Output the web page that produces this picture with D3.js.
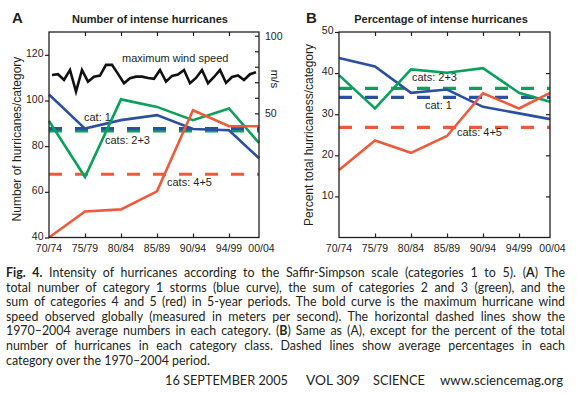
<!DOCTYPE html>
<html>
<head>
<meta charset="utf-8">
<script src="https://cdn.jsdelivr.net/npm/d3@7"></script>
<style>
body { margin: 0; background: #fff; }
svg { display: block; font-family: "Liberation Sans", Arial, sans-serif; }
.tick text { font-size: 10.5px; fill: #231f20; }
.tick line { stroke: #231f20; stroke-width: 1.2; }
</style>
</head>
<body>
<svg id="chart" width="577" height="393"></svg>
<script>
// periods on the x axis
var categories = ["70/74", "75/79", "80/84", "85/89", "90/94", "94/99", "00/04"];

// panel A: number of hurricanes per category
var cat1Count  = [102.6, 87.7, 91.4, 93.6, 87.5, 87.0, 74.7];
var cat23Count = [91.0, 66.5, 100.5, 97.2, 91.4, 96.5, 81.4];
var cat45Count = [40.0, 51.4, 52.3, 60.2, 95.7, 88.7, 88.7];
var countAvg   = [87.7, 86.7, 67.7]; // cat 1, cats 2+3, cats 4+5

// panel A: yearly maximum wind speed (m/s)
var windYears = [1970, 1971, 1972, 1973, 1974, 1975, 1976, 1977, 1978, 1979,
                 1980, 1981, 1982, 1983, 1984, 1985, 1986, 1987, 1988, 1989,
                 1990, 1991, 1992, 1993, 1994, 1995, 1996, 1997, 1998, 1999,
                 2000, 2001, 2002, 2003, 2004];
var maxWind = [74.7, 75.2, 71.5, 77.9, 64.0, 77.9, 70.4, 73.6, 74.3, 81.2,
               81.2, 75.4, 69.4, 72.6, 73.6, 73.6, 72.8, 72.2, 77.9, 70.4,
               74.1, 75.0, 77.9, 69.4, 72.8, 77.9, 69.4, 73.4, 77.9, 69.6,
               73.4, 74.4, 71.5, 75.2, 76.5];

// panel B: percentage of hurricanes per category
var cat1Pct  = [43.7, 41.6, 35.2, 36.0, 31.8, 30.2, 28.8];
var cat23Pct = [39.5, 31.4, 40.9, 40.1, 41.2, 35.2, 33.0];
var cat45Pct = [16.4, 23.6, 20.6, 24.7, 35.1, 31.4, 35.2];
var pctAvg   = [34.1, 36.3, 26.8];

var countTicks = [40, 60, 80, 100, 120];
var windTicks = [50, 60, 70, 80, 90, 100];
var pctTicks = [10, 20, 30, 40, 50];

var blue = "#2c50a0", green = "#0ba05c", red = "#ee5a3b", ink = "#231f20";

var svg = d3.select("#chart");
svg.append("rect").attr("width", 577).attr("height", 393).attr("fill", "#fff");

var panelTop = 32, H = 205.5;

function drawPanel(p) {
  var g = svg.append("g").attr("transform", "translate(" + p.left + "," + panelTop + ")");
  var x = d3.scaleLinear().domain([0, 6]).range([0, 216]);
  // last period sits on the right edge of the frame
  var px = function(i) { return Math.min(x(i), p.width); };

  // average (dashed) lines
  p.avgs.forEach(function(a) {
    g.append("line")
      .attr("x1", 0).attr("x2", p.width)
      .attr("y1", p.y(a.value)).attr("y2", p.y(a.value))
      .attr("stroke", a.color).attr("stroke-width", 3.2)
      .attr("stroke-dasharray", "13,13");
  });

  var line = d3.line()
    .x(function(d, i) { return px(i); })
    .y(function(d) { return p.y(d); });

  p.series.forEach(function(s) {
    g.append("path")
      .attr("d", line(s.values))
      .attr("fill", "none")
      .attr("stroke", s.color)
      .attr("stroke-width", 2.6);
  });

  // frame
  g.append("rect").attr("width", p.width).attr("height", H)
    .attr("fill", "none").attr("stroke", ink).attr("stroke-width", 1.3);

  // left axis, ticks outside
  g.append("g")
    .call(d3.axisLeft(p.y).tickValues(p.yTicks).tickSize(4).tickPadding(1.5))
    .call(function(a) { a.select(".domain").remove(); })
    .selectAll("text").attr("dy", "0.18em");

  // top and bottom ticks point inwards
  g.append("g").attr("transform", "translate(0," + H + ")")
    .call(d3.axisBottom(x).tickValues([1, 2, 3, 4, 5]).tickSize(-4).tickFormat(""))
    .call(function(a) { a.select(".domain").remove(); });
  g.append("g")
    .call(d3.axisTop(x).tickValues([1, 2, 3, 4, 5]).tickSize(-4).tickFormat(""))
    .call(function(a) { a.select(".domain").remove(); });

  g.selectAll(".xlab")
    .data(categories)
    .enter().append("text")
    .attr("class", "xlab")
    .attr("x", function(d, i) { return Math.min(x(i), p.width + 2.5); })
    .attr("y", H + 14.5)
    .attr("text-anchor", "middle")
    .attr("font-size", "10.5px")
    .attr("fill", ink)
    .text(function(d) { return d; });

  // panel letter + title
  svg.append("text")
    .attr("x", p.letterX).attr("y", 23)
    .attr("font-size", "15px").attr("font-weight", "bold").attr("fill", ink)
    .text(p.letter);
  svg.append("text")
    .attr("x", p.left + p.titleX).attr("y", 23)
    .attr("text-anchor", "middle")
    .attr("font-size", "11px").attr("font-weight", "bold").attr("fill", ink)
    .text(p.title);

  // y title
  svg.append("text")
    .attr("transform", "translate(" + p.ytitleX + "," + (panelTop + p.ytitleY) + ") rotate(-90)")
    .attr("text-anchor", "middle")
    .attr("font-size", "12px").attr("fill", ink)
    .text(p.ytitle);

  p.labels.forEach(function(l) {
    g.append("text")
      .attr("x", l.x).attr("y", l.y)
      .attr("font-size", "11px").attr("fill", ink)
      .text(l.text);
  });

  return g;
}

// ---- panel A
var yA = d3.scaleLinear().domain([40, 130]).range([H, 0]);
var gA = drawPanel({
  left: 49, width: 210, y: yA, yTicks: countTicks,
  letter: "A", letterX: 12, title: "Number of intense hurricanes", titleX: 101,
  ytitle: "Number of hurricanes/category", ytitleX: 21, ytitleY: 107,
  avgs: [
    {value: countAvg[1], color: green},
    {value: countAvg[0], color: blue},
    {value: countAvg[2], color: red}
  ],
  series: [
    {values: cat1Count, color: blue},
    {values: cat23Count, color: green},
    {values: cat45Count, color: red}
  ],
  labels: [
    {text: "maximum wind speed", x: 73, y: 30},
    {text: "cat: 1", x: 35, y: 88.5},
    {text: "cats: 2+3", x: 56, y: 111.5},
    {text: "cats: 4+5", x: 118, y: 154}
  ]
});

// wind speed on the right axis of panel A
var wind = d3.scaleLinear().domain([50, 100]).range([81.3, 3.7]);
var xYear = d3.scaleLinear().domain([1970, 2004]).range([3, 207]);
gA.append("path")
  .attr("d", d3.line()
    .x(function(d, i) { return xYear(windYears[i]); })
    .y(function(d) { return wind(d); })(maxWind))
  .attr("fill", "none")
  .attr("stroke", "#111")
  .attr("stroke-width", 2.6);

gA.append("g").attr("transform", "translate(210,0)")
  .call(d3.axisRight(wind).tickValues(windTicks).tickSize(-4).tickPadding(6)
    .tickFormat(function(d) { return (d === 50 || d === 100) ? d : ""; }))
  .call(function(a) { a.select(".domain").remove(); })
  .selectAll("text").attr("font-size", "11px");

svg.append("text")
  .attr("transform", "translate(271,79) rotate(90)")
  .attr("text-anchor", "middle")
  .attr("font-size", "11.5px").attr("fill", ink)
  .text("m/s");

// ---- panel B
var yB = d3.scaleLinear().domain([0, 50]).range([H, 0]);
var gB = drawPanel({
  left: 339, width: 211, y: yB, yTicks: pctTicks,
  letter: "B", letterX: 306, title: "Percentage of intense hurricanes", titleX: 102,
  ytitle: "Percent  total hurricaness/category", ytitleX: 313, ytitleY: 103,
  avgs: [
    {value: pctAvg[1], color: green},
    {value: pctAvg[0], color: blue},
    {value: pctAvg[2], color: red}
  ],
  series: [
    {values: cat1Pct, color: blue},
    {values: cat23Pct, color: green},
    {values: cat45Pct, color: red}
  ],
  labels: [
    {text: "cats: 2+3", x: 73, y: 48.5},
    {text: "cat: 1", x: 86, y: 76.5},
    {text: "cats: 4+5", x: 118, y: 104}
  ]
});
gB.append("g").attr("transform", "translate(211,0)")
  .call(d3.axisRight(yB).tickValues([10, 20, 30, 40]).tickSize(-4).tickFormat(""))
  .call(function(a) { a.select(".domain").remove(); });

// ---- caption
var captionLines = [
  [["b", "Fig. 4."], ["r", " Intensity of hurricanes according to the Saffir-Simpson scale (categories 1 to 5). ("], ["b", "A"], ["r", ") The"]],
  [["r", "total number of category 1 storms (blue curve), the sum of categories 2 and 3 (green), and the"]],
  [["r", "sum of categories 4 and 5 (red) in 5-year periods. The bold curve is the maximum hurricane wind"]],
  [["r", "speed observed globally (measured in meters per second). The horizontal dashed lines show the"]],
  [["r", "1970\u20132004 average numbers in each category. ("], ["b", "B"], ["r", ") Same as (A), except for the percent of the total"]],
  [["r", "number of hurricanes in each category class. Dashed lines show average percentages in each"]],
  [["r", "category over the 1970\u20132004 period."]]
];

var capFont = "Lato, 'Noto Sans', sans-serif";
captionLines.forEach(function(parts, li) {
  var t = svg.append("text")
    .attr("x", 6).attr("y", 277 + li * 14.6)
    .attr("font-family", capFont)
    .attr("font-size", "12.4px")
    .attr("fill", ink);
  parts.forEach(function(pt) {
    t.append("tspan")
      .attr("font-weight", pt[0] === "b" ? "bold" : "normal")
      .text(pt[1]);
  });
  if (li < captionLines.length - 1) {
    var full = parts.map(function(pt) { return pt[1]; }).join("");
    var spaces = full.split(" ").length - 1;
    var len = t.node().getComputedTextLength();
    var target = 559;
    if (len < target) {
      t.attr("word-spacing", ((target - len) / spaces) + "px");
    } else {
      t.attr("textLength", target).attr("lengthAdjust", "spacingAndGlyphs");
    }
  }
});

// footer
var footer = [
  {text: "16 SEPTEMBER 2005", x: 165, w: 123},
  {text: "VOL 309", x: 306, w: 54},
  {text: "SCIENCE", x: 373, w: 52},
  {text: "www.sciencemag.org", x: 440, w: 123}
];
footer.forEach(function(f) {
  svg.append("text")
    .attr("x", f.x).attr("y", 385)
    .attr("font-family", capFont)
    .attr("font-size", "13px")
    .attr("fill", ink)
    .attr("textLength", f.w).attr("lengthAdjust", "spacingAndGlyphs")
    .text(f.text);
});
</script>
</body>
</html>
